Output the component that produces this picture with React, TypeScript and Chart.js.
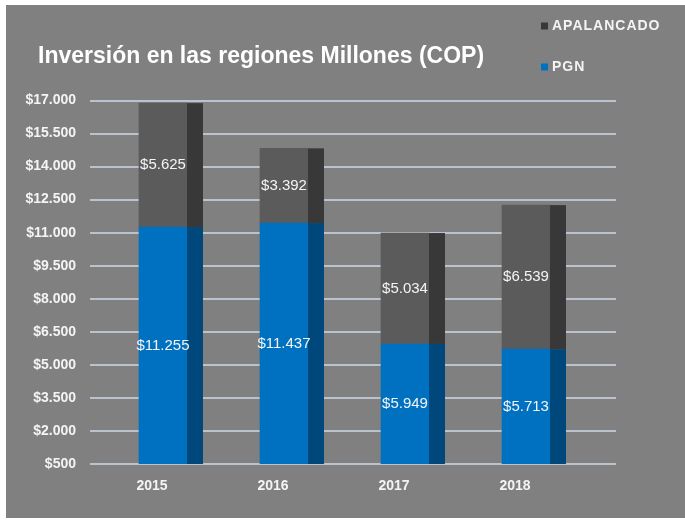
import React, { useEffect, useRef } from 'react';
import { Chart, registerables } from 'chart.js';
Chart.register(...registerables);

const categories = ['2015', '2016', '2017', '2018'];
const pgnValues = [11255, 11437, 5949, 5713];
const apalancadoValues = [5625, 3392, 5034, 6539];
const yMin = 500;
const yMax = 17000;
const yStep = 1500;
const titleText = 'Inversión en las regiones Millones (COP)';
const legendLabels = ['APALANCADO', 'PGN'];

const BG = '#808080';
const GRAY_FACE = '#5b5b5b';
const GRAY_SIDE = '#383838';
const BLUE_FACE = '#0070c0';
const BLUE_SIDE = '#00477c';
const TEXT = '#f4f4f4';
const FONT = '"Liberation Sans", Arial, sans-serif';

const fmt = (n: number) => '$' + String(n).replace(/\B(?=(\d{3})+(?!\d))/g, '.');

const backgroundPlugin = {
  id: 'bgPlugin',
  beforeDraw(chart: any) {
    const { ctx, width, height } = chart;
    ctx.save();
    ctx.fillStyle = '#ffffff';
    ctx.fillRect(0, 0, width, height);
    ctx.fillStyle = BG;
    ctx.fillRect(6, 5, width - 6, 513);
    ctx.restore();
  },
};

const gridPlugin = {
  id: 'gridPlugin',
  beforeDatasetsDraw(chart: any) {
    const { ctx } = chart;
    const y = chart.scales.y;
    ctx.save();
    ctx.strokeStyle = '#bac2cd';
    ctx.lineWidth = 2;
    y.ticks.forEach((t: any) => {
      const py = Math.round(y.getPixelForValue(t.value));
      ctx.beginPath();
      ctx.moveTo(90, py);
      ctx.lineTo(616, py);
      ctx.stroke();
    });
    ctx.restore();
  },
};

const sideColors = [BLUE_SIDE, GRAY_SIDE];

const barDecorPlugin = {
  id: 'barDecor',
  afterDatasetsDraw(chart: any) {
    const { ctx, chartArea } = chart;
    ctx.save();
    chart.data.datasets.forEach((ds: any, di: number) => {
      const meta = chart.getDatasetMeta(di);
      meta.data.forEach((el: any) => {
        const right = el.x + el.width / 2;
        const top = el.y;
        const bottom = Math.min(el.base, chartArea.bottom);
        ctx.fillStyle = sideColors[di];
        ctx.fillRect(right, top, 16, bottom - top);
      });
    });
    ctx.fillStyle = TEXT;
    ctx.font = `15px ${FONT}`;
    ctx.textAlign = 'center';
    ctx.textBaseline = 'middle';
    chart.data.datasets.forEach((ds: any, di: number) => {
      const meta = chart.getDatasetMeta(di);
      meta.data.forEach((el: any, i: number) => {
        const bottom = Math.min(el.base, chartArea.bottom);
        ctx.fillText(fmt(ds.data[i]), el.x, (el.y + bottom) / 2);
      });
    });
    ctx.restore();
  },
};

const titleLegendPlugin = {
  id: 'titleLegend',
  afterDraw(chart: any) {
    const { ctx } = chart;
    ctx.save();
    ctx.fillStyle = '#ffffff';
    ctx.font = `bold 23px ${FONT}`;
    ctx.textAlign = 'left';
    ctx.textBaseline = 'middle';
    ctx.fillText(titleText, 38, 57);

    const colors = [GRAY_SIDE, BLUE_FACE];
    const ys = [26, 67];
    ctx.font = `bold 14px ${FONT}`;
    try { (ctx as any).letterSpacing = '1px'; } catch (e) {}
    legendLabels.forEach((lbl, i) => {
      ctx.fillStyle = colors[i];
      ctx.fillRect(541, ys[i] - 3.5, 7, 7);
      ctx.fillStyle = TEXT;
      ctx.fillText(lbl, 552, ys[i] + 0.5);
    });
    ctx.restore();
  },
};

export default function App() {
  const ref = useRef<HTMLCanvasElement>(null);
  useEffect(() => {
    document.body.style.margin = '0';
    const chart = new Chart(ref.current!, {
      type: 'bar',
      data: {
        labels: categories,
        datasets: [
          {
            label: 'PGN',
            data: pgnValues,
            backgroundColor: BLUE_FACE,
            borderWidth: 0,
            barThickness: 48,
          },
          {
            label: 'APALANCADO',
            data: apalancadoValues,
            backgroundColor: GRAY_FACE,
            borderWidth: 0,
            barThickness: 48,
          },
        ],
      },
      options: {
        responsive: false,
        animation: false,
        layout: { padding: { top: 100.5, left: 6, right: 98.5, bottom: 16 } },
        plugins: {
          legend: { display: false },
          title: { display: false },
          tooltip: { enabled: false },
        },
        scales: {
          x: {
            stacked: true,
            grid: { display: false, drawTicks: false },
            border: { display: false },
            ticks: {
              color: TEXT,
              font: { family: FONT, size: 14, weight: 'bold' },
              labelOffset: -11,
              padding: 14,
            },
            afterFit: (s: any) => { s.height = 40; },
          },
          y: {
            stacked: true,
            min: yMin,
            max: yMax,
            grid: { display: false, drawTicks: false },
            border: { display: false },
            ticks: {
              stepSize: yStep,
              color: TEXT,
              font: { family: FONT, size: 14, weight: 'bold' },
              padding: 26.5,
              callback: (v: any) => fmt(Number(v)),
            },
            afterFit: (s: any) => { s.width = 96.5; },
          },
        },
      },
      plugins: [backgroundPlugin, gridPlugin, barDecorPlugin, titleLegendPlugin],
    });
    return () => chart.destroy();
  }, []);
  return (
    <div style={{ width: 685, height: 520 }}>
      <canvas ref={ref} width={685} height={520} style={{ display: 'block' }} />
    </div>
  );
}
